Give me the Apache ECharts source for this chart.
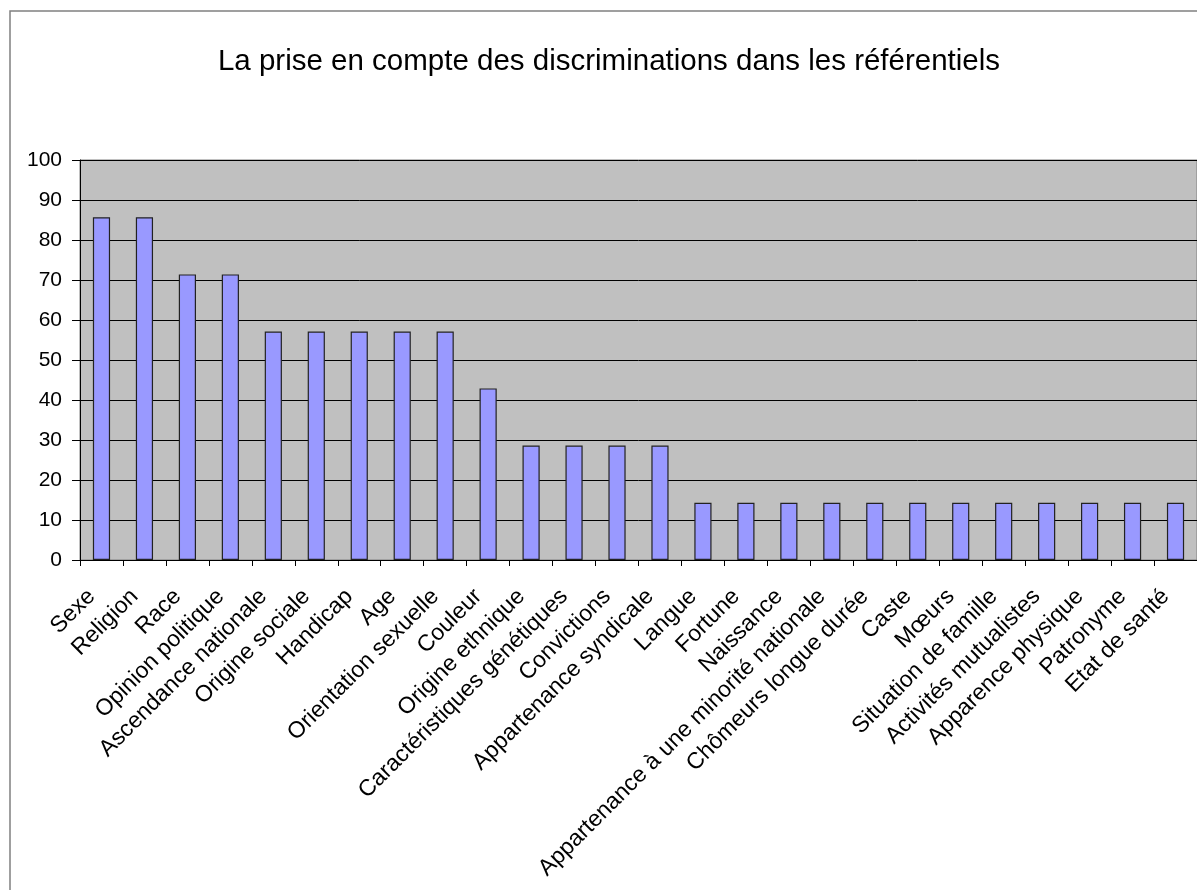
<!DOCTYPE html>
<html><head><meta charset="utf-8">
<script src="https://cdn.jsdelivr.net/npm/echarts@6/dist/echarts.min.js"></script>
<style>html,body{margin:0;padding:0;background:#fff}#c{width:1197px;height:890px}</style>
</head><body><div id="c"></div>
<script>
const title = "La prise en compte des discriminations dans les référentiels";
const categories = ["Sexe","Religion","Race","Opinion politique","Ascendance nationale","Origine sociale","Handicap","Age","Orientation sexuelle","Couleur","Origine ethnique","Caractéristiques génétiques","Convictions","Appartenance syndicale","Langue","Fortune","Naissance","Appartenance à une minorité nationale","Chômeurs longue durée","Caste","Mœurs","Situation de famille","Activités mutualistes","Apparence physique","Patronyme","Etat de santé"];
const values = [85.7,85.7,71.4,71.4,57.1,57.1,57.1,57.1,57.1,42.9,28.6,28.6,28.6,28.6,14.3,14.3,14.3,14.3,14.3,14.3,14.3,14.3,14.3,14.3,14.3,14.3];
const yTicks = {min:0,max:100,interval:10};

const chart = echarts.init(document.getElementById('c'), null, {renderer:'canvas'});
const font = '"Liberation Sans", Arial, sans-serif';
chart.setOption({
  animation:false,
  backgroundColor:'#fff',
  graphic:[{type:'rect',shape:{x:10,y:11,width:1200,height:900},style:{fill:null,stroke:'#808080',lineWidth:1.5},z:-1}],
  title:{text:title,left:604,textAlign:'center',top:42,textStyle:{fontFamily:font,fontSize:29.5,fontWeight:'normal',color:'#000'}},
  grid:{left:80,top:160,width:1121,height:400,show:true,backgroundColor:'#C0C0C0',borderColor:'#808080',borderWidth:1},
  xAxis:{type:'category',data:categories,
    axisLine:{lineStyle:{color:'#000',width:1}},
    axisTick:{show:true,alignWithLabel:false,length:6,lineStyle:{color:'#000'}},
    axisLabel:{interval:0,rotate:45,margin:23,padding:[0,14,0,0],fontFamily:font,fontSize:23,color:'#000'}},
  yAxis:{type:'value',min:yTicks.min,max:yTicks.max,interval:yTicks.interval,
    axisLine:{show:true,lineStyle:{color:'#000',width:1}},
    axisTick:{show:true,length:8,lineStyle:{color:'#000'}},
    splitLine:{show:true,lineStyle:{color:'#000',width:1}},
    axisLabel:{margin:18,fontFamily:font,fontSize:21,color:'#000'}},
  series:[{type:'bar',data:values,barCategoryGap:'60%',
    itemStyle:{color:'#9999FF',borderColor:'#222',borderWidth:1.2}}]
});
</script></body></html>
